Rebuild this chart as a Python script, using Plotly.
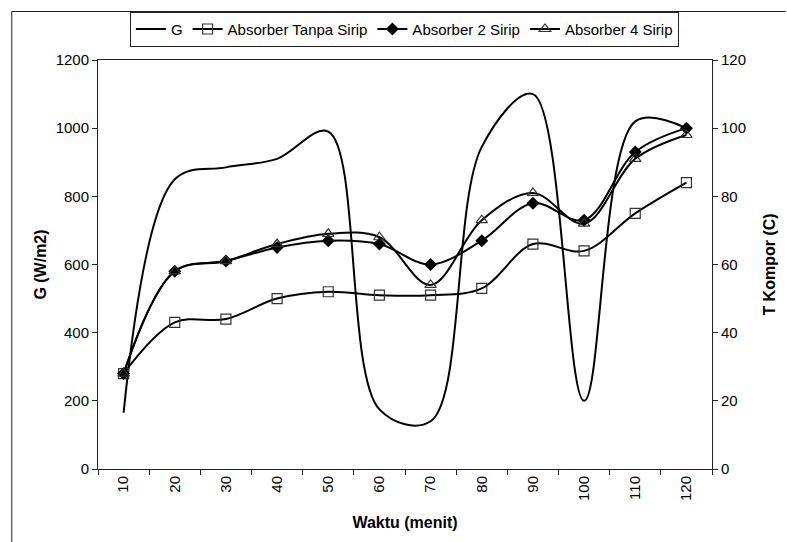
import plotly.graph_objects as go

waktu = ["10", "20", "30", "40", "50", "60", "70", "80", "90", "100", "110", "120"]
g_values = [165, 850, 885, 910, 990, 175, 140, 945, 1100, 200, 1020, 1000]
t_tanpa = [28, 43, 44, 50, 52, 51, 51, 53, 66, 64, 75, 84]
t_2sirip = [28, 58, 61, 65, 67, 66, 60, 67, 78, 73, 93, 100]
t_4sirip = [28, 58, 61, 66, 69, 68, 54, 73, 81, 72, 91, 98]

left_ticks = [0, 200, 400, 600, 800, 1000, 1200]
right_ticks = [0, 20, 40, 60, 80, 100, 120]

FONT = "Liberation Sans, Arial, sans-serif"
LINE = dict(color="black", width=2, shape="spline", smoothing=1.0)

fig = go.Figure()
fig.add_trace(go.Scatter(x=waktu, y=g_values, name="G", mode="lines",
                         line=LINE, yaxis="y"))
fig.add_trace(go.Scatter(x=waktu, y=t_tanpa, name="Absorber Tanpa Sirip", mode="lines+markers",
                         line=LINE, yaxis="y2",
                         marker=dict(symbol="square-open", size=10, color="#333333",
                                     line=dict(width=1.2, color="#333333"))))
fig.add_trace(go.Scatter(x=waktu, y=t_2sirip, name="Absorber 2 Sirip", mode="lines+markers",
                         line=LINE, yaxis="y2",
                         marker=dict(symbol="diamond", size=10, color="black",
                                     line=dict(width=0))))
fig.add_trace(go.Scatter(x=waktu, y=t_4sirip, name="Absorber 4 Sirip", mode="lines+markers",
                         line=LINE, yaxis="y2",
                         marker=dict(symbol="triangle-up-open", size=10, color="#333333",
                                     line=dict(width=1.2, color="#333333"))))

axis_common = dict(showgrid=False, zeroline=False, linecolor="#222222", linewidth=1,
                   tickcolor="#222222", ticklen=5, tickwidth=1,
                   tickfont=dict(family=FONT, size=15, color="black"))

xr = [-0.5, len(waktu) - 0.5]

fig.update_layout(
    width=787, height=542,
    margin=dict(l=98, r=66, t=60, b=73),
    paper_bgcolor="white", plot_bgcolor="white",
    font=dict(family=FONT, size=15, color="black"),
    showlegend=True,
    legend=dict(orientation="h", x=0.499, xanchor="center", y=1.118, yanchor="top",
                bordercolor="#222222", borderwidth=1, bgcolor="white",
                font=dict(family=FONT, size=15, color="black"),
                itemwidth=30, tracegroupgap=0),
    xaxis=dict(axis_common, type="category", range=xr, tickson="boundaries", ticks="outside",
               tickangle=-90, showline=True, mirror=True,
               title=dict(text="<b>Waktu (menit)</b>", font=dict(family=FONT, size=16), standoff=16)),
    yaxis=dict(axis_common, range=[0, 1200], tickvals=left_ticks, ticks="outside",
               showline=True,
               title=dict(text="<b>G (W/m2)</b>", font=dict(family=FONT, size=16), standoff=5)),
    yaxis2=dict(axis_common, range=[0, 120], tickvals=right_ticks, ticks="outside",
                overlaying="y", side="right", showline=True,
                title=dict(text="<b>T Kompor (C)</b>", font=dict(family=FONT, size=16), standoff=18)),
    # overlay axes used only to draw the inner half of the crossing tick marks
    xaxis2=dict(axis_common, overlaying="x", range=xr,
                tickvals=[i - 0.5 for i in range(len(waktu) + 1)],
                ticks="inside", showticklabels=False, showline=False),
    yaxis3=dict(axis_common, overlaying="y", range=[0, 1200], tickvals=left_ticks,
                ticks="inside", showticklabels=False, showline=False),
    yaxis4=dict(axis_common, overlaying="y", side="right", range=[0, 120], tickvals=right_ticks,
                ticks="inside", showticklabels=False, showline=False),
)

# outer chart-area frame (left and top edges visible)
fx0 = (10.5 - 98) / 623
fy0 = (469 - 11.5) / 409
fig.add_shape(type="line", xref="paper", yref="paper", x0=fx0, x1=fx0, y0=fy0, y1=-0.2,
              line=dict(color="#222222", width=1))
fig.add_shape(type="line", xref="paper", yref="paper", x0=fx0, x1=1.12, y0=fy0, y1=fy0,
              line=dict(color="#222222", width=1))

fig.write_html("out.html")
